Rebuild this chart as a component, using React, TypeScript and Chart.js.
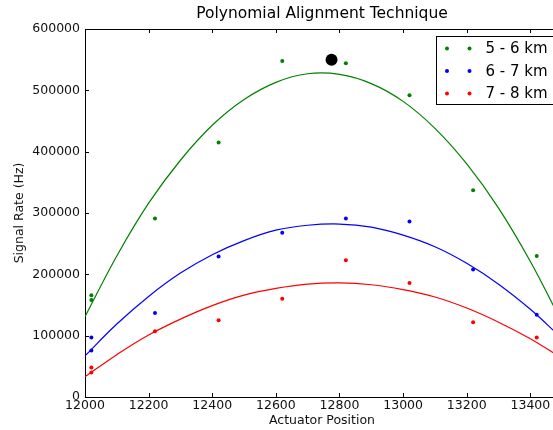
import { useEffect, useRef } from "react";
import { Chart, registerables } from "chart.js";
Chart.register(...registerables);

const chartTitle = "Polynomial Alignment Technique";
const xLabel = "Actuator Position";
const yLabel = "Signal Rate (Hz)";
const seriesNames = ["5 - 6 km", "6 - 7 km", "7 - 8 km"];
const seriesColors = ["#008000", "#0000ff", "#ff0000"];

const samplePositions = [12020, 12020, 12220, 12420, 12620, 12820, 13020, 13220, 13420];
const greenSamples = [166000, 158000, 291000, 415000, 548000, 544000, 492000, 337000, 230000];
const blueSamples = [97000, 76000, 137000, 229000, 268000, 291000, 286000, 208000, 134000];
const redSamples = [48000, 40000, 107000, 125000, 160000, 223000, 186000, 122000, 97000];

const fitPositions = [12000, 12100, 12200, 12300, 12400, 12500, 12600, 12700, 12800, 12900, 13000, 13100, 13200, 13300, 13400, 13490];
const greenFit = [131000, 230000, 316000, 386000, 443000, 485000, 513000, 527000, 526000, 511000, 482000, 438000, 380000, 308000, 221000, 131000];
const blueFit = [67000, 119000, 164000, 202000, 232000, 255000, 272000, 280000, 282000, 277000, 264000, 245000, 218000, 184000, 143000, 100000];
const redFit = [33000, 69000, 101000, 127000, 149000, 166000, 177000, 184000, 186000, 183000, 175000, 163000, 145000, 122000, 95000, 66000];

const bestPosition = [12775];
const bestValue = [550000];

const xMin = 12000;
const xMax = 13490;
const xStep = 200;
const yMin = 0;
const yMax = 600000;
const yStep = 100000;

const FONT = "'DejaVu Sans', 'Liberation Sans', sans-serif";

const pts = (xs: number[], ys: number[]) => xs.map((x, i) => ({ x, y: ys[i] }));

const framePlugin = {
  id: "frameTicks",
  beforeDatasetsDraw(chart: any) {
    const { ctx, chartArea: a, scales } = chart;
    ctx.save();
    ctx.strokeStyle = "#000";
    ctx.lineWidth = 1;
    ctx.strokeRect(Math.round(a.left) + 0.5, Math.round(a.top) + 0.5, Math.round(a.right - a.left), Math.round(a.bottom - a.top));
    const L = 4;
    ctx.beginPath();
    scales.x.ticks.forEach((t: any) => {
      const px = Math.round(scales.x.getPixelForValue(t.value)) + 0.5;
      ctx.moveTo(px, a.bottom);
      ctx.lineTo(px, a.bottom - L);
      ctx.moveTo(px, a.top);
      ctx.lineTo(px, a.top + L);
    });
    scales.y.ticks.forEach((t: any) => {
      const py = Math.round(scales.y.getPixelForValue(t.value)) + 0.5;
      ctx.moveTo(a.left, py);
      ctx.lineTo(a.left + L, py);
      ctx.moveTo(a.right, py);
      ctx.lineTo(a.right - L, py);
    });
    ctx.stroke();
    ctx.restore();
  },
};

const legendPlugin = {
  id: "boxLegend",
  afterDraw(chart: any) {
    const { ctx, chartArea: a } = chart;
    const left = Math.round(a.right - 123) + 0.5;
    const top = Math.round(a.top + 7) + 0.5;
    ctx.save();
    ctx.fillStyle = "#fff";
    ctx.fillRect(left, top, 120, 68);
    ctx.strokeStyle = "#000";
    ctx.lineWidth = 1;
    ctx.strokeRect(left, top, 120, 68);
    ctx.font = `15px ${FONT}`;
    ctx.textBaseline = "middle";
    ctx.textAlign = "left";
    seriesNames.forEach((name, i) => {
      const y = top + 12 + i * 22.5;
      ctx.fillStyle = seriesColors[i];
      [10.5, 33].forEach((dx) => {
        ctx.beginPath();
        ctx.arc(left + dx, y, 2, 0, Math.PI * 2);
        ctx.fill();
      });
      ctx.fillStyle = "#000";
      ctx.fillText(name, left + 49, y + 1);
    });
    ctx.restore();
  },
};

export default function App() {
  const ref = useRef<HTMLCanvasElement>(null);
  useEffect(() => {
    if (!ref.current) return;
    const sampleSets = [greenSamples, blueSamples, redSamples];
    const fitSets = [greenFit, blueFit, redFit];
    const datasets: any[] = [];
    fitSets.forEach((f, i) => {
      datasets.push({
        type: "line",
        label: seriesNames[i] + " fit",
        data: pts(fitPositions, f),
        borderColor: seriesColors[i],
        borderWidth: 1.2,
        pointRadius: 0,
        tension: 0.4,
        fill: false,
      });
    });
    sampleSets.forEach((s, i) => {
      datasets.push({
        type: "scatter",
        label: seriesNames[i],
        data: pts(samplePositions, s),
        backgroundColor: seriesColors[i],
        borderColor: seriesColors[i],
        borderWidth: 0,
        pointRadius: 2,
      });
    });
    datasets.push({
      type: "scatter",
      label: "best",
      data: pts(bestPosition, bestValue),
      backgroundColor: "#000",
      borderColor: "#000",
      borderWidth: 0,
      pointRadius: 6,
    });

    const chart = new Chart(ref.current, {
      type: "scatter",
      data: { datasets },
      plugins: [framePlugin, legendPlugin],
      options: {
        animation: false,
        responsive: false,
        maintainAspectRatio: false,
        layout: { padding: 0 },
        plugins: {
          legend: { display: false },
          tooltip: { enabled: false },
          title: {
            display: true,
            text: chartTitle,
            color: "#000",
            font: { family: FONT, size: 15.5, weight: "normal" },
            padding: { top: 5, bottom: 5.4 },
          },
        },
        scales: {
          x: {
            type: "linear",
            min: xMin,
            max: xMax,
            grid: { display: false, drawTicks: false },
            border: { display: false },
            ticks: {
              stepSize: xStep,
              includeBounds: false,
              color: "#111",
              padding: 1,
              maxRotation: 0,
              font: { family: FONT, size: 12.5 },
              callback: (v: any) => String(v),
            },
            afterBuildTicks: (s: any) => {
              s.ticks = s.ticks.filter((t: any) => t.value % xStep === 0);
            },
            afterFit: (s: any) => {
              s.height = 33;
            },
            title: {
              display: true,
              text: xLabel,
              color: "#111",
              font: { family: FONT, size: 12.5 },
              padding: { top: 0, bottom: 2 },
            },
          },
          y: {
            type: "linear",
            position: "left",
            min: yMin,
            max: yMax,
            grid: { display: false, drawTicks: false },
            border: { display: false },
            ticks: {
              stepSize: yStep,
              color: "#111",
              padding: 5,
              font: { family: FONT, size: 12.5 },
              callback: (v: any) => String(v),
            },
            afterFit: (s: any) => {
              s.width = 85;
            },
            title: {
              display: true,
              text: yLabel,
              color: "#111",
              font: { family: FONT, size: 12.5 },
              padding: { top: 12, bottom: 0 },
            },
          },
          yRight: {
            type: "linear",
            position: "right",
            min: yMin,
            max: yMax,
            grid: { display: false, drawTicks: false },
            border: { display: false },
            ticks: { display: false },
            afterFit: (s: any) => {
              s.width = 85;
            },
          },
        },
      } as any,
    });
    return () => chart.destroy();
  }, []);

  return (
    <div style={{ position: "fixed", left: 0, top: 0, width: 553, height: 430, overflow: "hidden", background: "#fff" }}>
      <canvas ref={ref} width={644} height={430} style={{ display: "block" }} />
    </div>
  );
}
